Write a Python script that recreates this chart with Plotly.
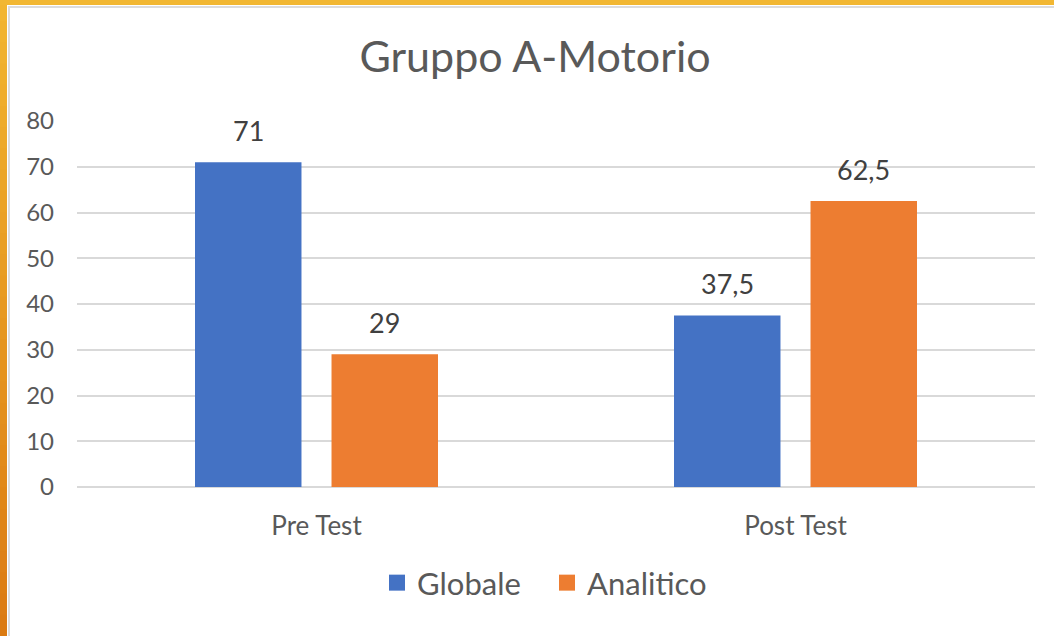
import plotly.graph_objects as go

categories = ["Pre Test", "Post Test"]
globale = [71, 37.5]
analitico = [29, 62.5]
series_names = ["Globale", "Analitico"]
colors = ["#4472C4", "#ED7D31"]
y_ticks = [0, 10, 20, 30, 40, 50, 60, 70, 80]

W, H = 1054, 636
ML, MR, MT, MB = 77, 19, 121, 149
PW = W - ML - MR
PH = H - MT - MB
BARGAP, BARGROUPGAP = 0.43, 0.22
FONT = "Lato"
TXT = "#595959"

def fx(px):
    return (px - ML) / PW

def fy(py):
    return (H - MB - py) / PH

fig = go.Figure()
for name, vals, col in zip(series_names, [globale, analitico], colors):
    fig.add_trace(go.Bar(x=categories, y=vals, name=name, marker_color=col,
                         marker_line_width=0, showlegend=False, legendgroup=name))
# legend entries with larger square symbols
for name, col in zip(series_names, colors):
    fig.add_trace(go.Scatter(x=[None], y=[None], mode="markers", name=name,
                             legendgroup=name,
                             marker=dict(symbol="square", size=22, color=col)))

# data labels
cat_w = PW / len(categories)
slot = cat_w * (1 - BARGAP) / 2
annotations = []
for i, vals in enumerate([globale, analitico]):
    shift = (i - 0.5) * slot
    for c, v in zip(categories, vals):
        txt = (f"{v:g}").replace(".", ",")
        annotations.append(dict(x=c, y=v, xref="x", yref="y", text=txt, showarrow=False,
                                xshift=shift, yanchor="bottom", yshift=13,
                                font=dict(family=FONT, size=27, color="#404040")))

# border (orange frame on top and left with gradient)
shapes = []
def hexmix(a, b, t):
    a = [int(a[i:i+2], 16) for i in (1, 3, 5)]
    b = [int(b[i:i+2], 16) for i in (1, 3, 5)]
    return "#" + "".join(f"{round(a[k] + (b[k]-a[k])*t):02x}" for k in range(3))

N = 30
for k in range(N):
    y0 = H * k / N
    y1 = H * (k + 1) / N + 1
    shapes.append(dict(type="rect", xref="paper", yref="paper",
                       x0=fx(0), x1=fx(7), y0=fy(y1), y1=fy(y0),
                       fillcolor=hexmix("#F2B630", "#DB7A12", (k + 0.5) / N),
                       line_width=0, layer="above"))
shapes.append(dict(type="rect", xref="paper", yref="paper", x0=fx(0), x1=fx(W),
                   y0=fy(5), y1=fy(0), fillcolor="#F2B732", line_width=0, layer="above"))
shapes.append(dict(type="rect", xref="paper", yref="paper", x0=fx(8), x1=fx(10),
                   y0=fy(H), y1=fy(6), fillcolor="#DCDCDC", line_width=0, layer="above"))
shapes.append(dict(type="rect", xref="paper", yref="paper", x0=fx(8), x1=fx(W),
                   y0=fy(8), y1=fy(6), fillcolor="#DCDCDC", line_width=0, layer="above"))

fig.update_layout(
    width=W, height=H,
    margin=dict(l=ML, r=MR, t=MT, b=MB, autoexpand=False),
    paper_bgcolor="white", plot_bgcolor="white",
    barmode="group", bargap=BARGAP, bargroupgap=BARGROUPGAP,
    separators=",.",
    title=dict(text="Gruppo A-Motorio", x=535 / W, xanchor="center",
               y=1 - 57 / H, yanchor="middle",
               font=dict(family=FONT, size=43, color=TXT)),
    font=dict(family=FONT, color=TXT),
    legend=dict(orientation="h", x=fx(377), xanchor="left", y=fy(583), yanchor="middle",
                font=dict(family=FONT, size=31, color=TXT), itemwidth=30,
                entrywidth=125, entrywidthmode="pixels",
                itemsizing="trace", bgcolor="rgba(0,0,0,0)"),
    annotations=annotations,
    shapes=shapes,
    showlegend=True,
)
fig.update_yaxes(range=[0, 80], tickvals=y_ticks, showgrid=True, gridcolor="#D9D9D9",
                 gridwidth=2, zeroline=True, zerolinecolor="#D9D9D9", zerolinewidth=2,
                 showline=False, ticks="", ticklabelstandoff=22,
                 tickfont=dict(family=FONT, size=24, color=TXT))
fig.update_xaxes(showline=False, ticks="", ticklabelstandoff=21, range=[-0.5, 1.5],
                 tickfont=dict(family=FONT, size=26, color=TXT))

fig.write_html("out.html", config={"displayModeBar": False},
               post_script="document.body.style.margin='0';document.body.style.overflow='hidden';")
